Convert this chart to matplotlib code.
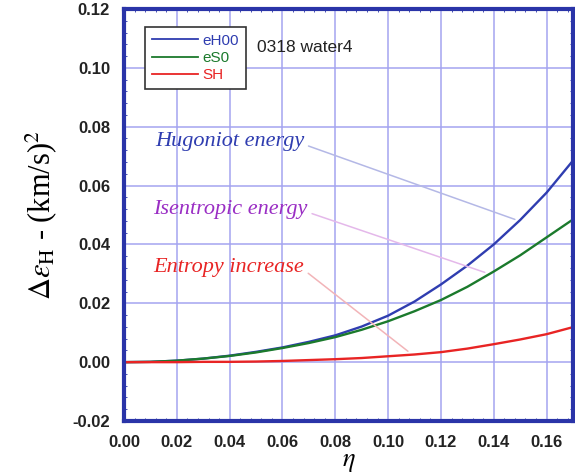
import numpy as np
import matplotlib
matplotlib.use('Agg')
import matplotlib.pyplot as plt
from matplotlib.ticker import FormatStrFormatter, MultipleLocator, AutoMinorLocator

plt.rcParams['mathtext.fontset'] = 'stix'

# values
eta = [0.00, 0.01, 0.02, 0.03, 0.04, 0.05, 0.06, 0.07, 0.08, 0.09,
       0.10, 0.11, 0.12, 0.13, 0.14, 0.15, 0.16, 0.17]
eH00 = [0.0, 0.0001, 0.0005, 0.0012, 0.0022, 0.0035, 0.0050, 0.0069, 0.0091, 0.0121,
        0.0158, 0.0206, 0.0264, 0.0328, 0.0400, 0.0483, 0.0576, 0.0685]
eS0 = [0.0, 0.0001, 0.0005, 0.0012, 0.0021, 0.0033, 0.0048, 0.0065, 0.0085, 0.0110,
       0.0139, 0.0173, 0.0211, 0.0256, 0.0308, 0.0363, 0.0424, 0.0485]
SH = [0.0, 0.0, 0.0, 0.0001, 0.0001, 0.0002, 0.0004, 0.0007, 0.0010, 0.0014,
      0.0020, 0.0026, 0.0034, 0.0046, 0.0061, 0.0077, 0.0095, 0.0119]

blue = '#2f3db0'
green = '#1b7a2c'
red = '#e82424'
spinecol = '#2a34a8'
gridcol = '#a4a4f0'

fig = plt.figure(figsize=(5.75, 4.75), dpi=100)
ax = fig.add_axes([124/575, 54/475, 449/575, 412/475])

ax.plot(eta, eH00, color=blue, lw=1.7, label='eH00')
ax.plot(eta, eS0, color=green, lw=1.7, label='eS0')
ax.plot(eta, SH, color=red, lw=1.7, label='SH')

ax.set_xlim(0, 0.17)
ax.set_ylim(-0.02, 0.12)
ax.xaxis.set_major_locator(MultipleLocator(0.02))
ax.yaxis.set_major_locator(MultipleLocator(0.02))
ax.xaxis.set_minor_locator(AutoMinorLocator(5))
ax.yaxis.set_minor_locator(AutoMinorLocator(5))
ax.xaxis.set_major_formatter(FormatStrFormatter('%.2f'))
ax.yaxis.set_major_formatter(FormatStrFormatter('%.2f'))
ax.grid(True, which='major', color=gridcol, lw=1.1)
ax.set_axisbelow(True)
ax.tick_params(which='major', length=0, pad=10, labelsize=12)
ax.tick_params(which='minor', direction='in', length=2.5, color=spinecol,
               top=True, right=True)
for lab in ax.get_xticklabels() + ax.get_yticklabels():
    lab.set_family('Liberation Sans')
    lab.set_color('#222222')
    lab.set_fontweight('bold')
for s in ax.spines.values():
    s.set_color(spinecol)
    s.set_linewidth(3)

ax.set_ylabel(r'$\Delta\varepsilon_{\mathrm{H}}$ - (km/s)$^2$', fontsize=22,
              family='Liberation Serif', labelpad=10)
ax.set_xlabel(r'$\eta$', fontsize=19, labelpad=-1)

leg = ax.legend(loc='upper left', bbox_to_anchor=(0.03, 0.975), fancybox=False,
                edgecolor='#333333', framealpha=1, handlelength=3.0,
                labelcolor='linecolor', borderpad=0.45, labelspacing=0.2,
                handletextpad=0.3, prop={'family': 'Liberation Sans', 'size': 11})
leg.get_frame().set_linewidth(1.2)
for h in leg.get_lines():
    h.set_linewidth(1.3)

ax.text(0.0505, 0.107, '0318 water4', fontsize=12.5, family='Liberation Sans',
        color='#222222', va='center')

notes = ['Hugoniot energy', 'Isentropic energy', 'Entropy increase']
note_colors = [blue, '#9a2ec4', red]
line_colors = ['#b4b8e6', '#e4b8ea', '#f2b4b8']
note_xy = [(0.148, 0.0485), (0.1366, 0.0305), (0.1075, 0.0037)]
note_text = [(0.0118, 0.0749), (0.0112, 0.0519), (0.0112, 0.0322)]
for t, c, lc, xy, xt in zip(notes, note_colors, line_colors, note_xy, note_text):
    ax.annotate(t, xy=xy, xytext=xt, color=c, fontsize=16, style='italic',
                family='Liberation Serif', va='center', ha='left',
                arrowprops=dict(arrowstyle='-', color=lc, lw=1.1,
                                shrinkA=1, shrinkB=0, relpos=(1, 0.35)))

fig.savefig('out.png', dpi=100)
